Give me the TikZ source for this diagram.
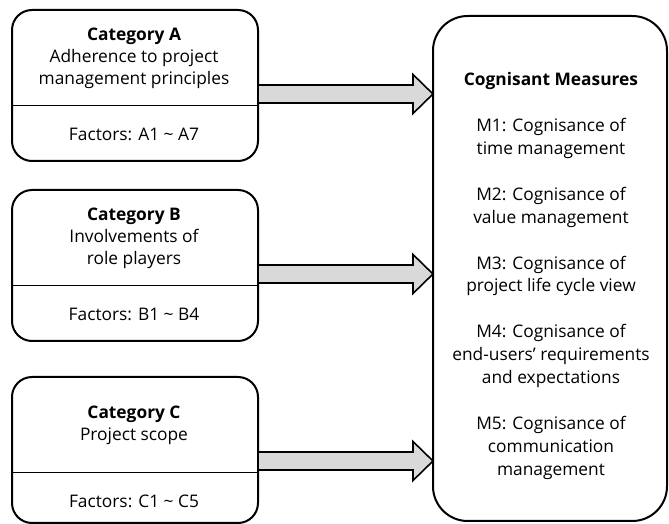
\documentclass[tikz,border=0pt]{standalone}
\usepackage{fontspec}
\setmainfont{Open Sans}
\usetikzlibrary{calc}
\definecolor{arrowgray}{RGB}{217,217,217}
\tikzset{
  catbox/.style={draw, line width=1.5pt, rounded corners=15pt, minimum width=184.5pt, inner sep=0pt, outer sep=0pt},
  measbox/.style={draw, line width=1.5pt, rounded corners=26pt, minimum width=175.5pt, minimum height=378.75pt, inner sep=0pt, outer sep=0pt},
  txt/.style={align=center, font=\fontsize{13}{16.5}\selectfont, inner sep=0pt},
  fatarrow/.style={draw, fill=arrowgray, line width=1.2pt, line join=miter},
  divider/.style={line width=0.75pt}
}

\begin{document}
\begin{tikzpicture}[x=0.75pt,y=-0.75pt]
  \useasboundingbox (0,0) rectangle (669,524);
  % measures on the right
  \node[measbox] (meas) at (550,268.5) {};
  \node[txt, font=\fontsize{13}{17.2}\selectfont] (meastxt) at (551,276) {\textbf{Cognisant Measures}\\[17.2pt]
    M1: Cognisance of\\time management\\[17.2pt]
    M2: Cognisance of\\value management\\[17.2pt]
    M3: Cognisance of\\project life cycle view\\[17.2pt]
    M4: Cognisance of\\end-users’ requirements\\and expectations\\[17.2pt]
    M5: Cognisance of\\communication\\management};
  % categories and their arrows
  \foreach \n/\ytop/\bh/\catname/\factors in {
    A/10/151/{Adherence to project\\management principles}/{A1 \textasciitilde{} A7},
    B/190/151/{Involvements of\\role players}/{B1 \textasciitilde{} B4},
    C/377/146/{Project scope}/{C1 \textasciitilde{} C5}}{
    \node[catbox, minimum height=\bh*0.75pt] (box\n) at (135,{\ytop+\bh/2}) {};
    \draw[divider] ($(box\n.north west)+(0,96)$) -- ($(box\n.north east)+(0,96)$);
    \node[txt] (cat\n) at (134,{\ytop+48}) {\textbf{Category \n}\\\catname};
    \node[txt] (fac\n) at (134,{\ytop+124}) {Factors: \factors};
    \coordinate (s\n) at ($(box\n.north east)+(0,84)$);
    \coordinate (t\n) at (s\n -| meas.west);
    \draw[fatarrow] ($(s\n)+(0,-9)$) -- ($(t\n)+(-20,-9)$) -- ($(t\n)+(-20,-19.5)$) -- (t\n)
      -- ($(t\n)+(-20,19.5)$) -- ($(t\n)+(-20,9)$) -- ($(s\n)+(0,9)$) -- cycle;
  }
\end{tikzpicture}
\end{document}
